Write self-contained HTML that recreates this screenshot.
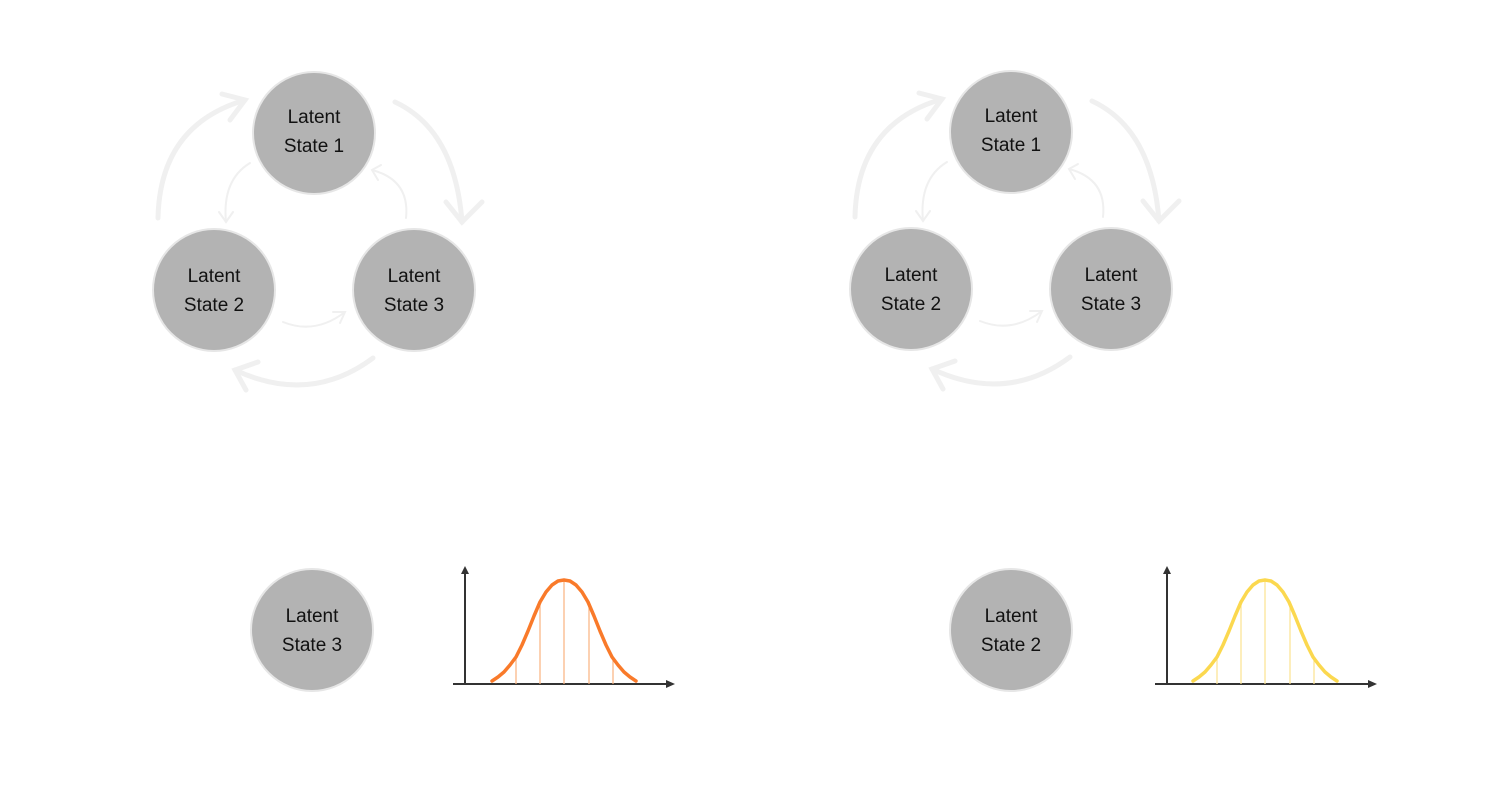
<!DOCTYPE html>
<html><head><meta charset="utf-8"><style>
html,body{margin:0;padding:0;background:#fff;width:1500px;height:800px;overflow:hidden}
text{font-family:"Liberation Sans",sans-serif;font-size:19px;fill:#111;text-anchor:middle}
</style></head><body>
<svg width="1500" height="800" viewBox="0 0 1500 800" xmlns="http://www.w3.org/2000/svg">
<defs>
<g id="cycle">
  <g fill="none" stroke="#f0f0f0" stroke-width="5" stroke-linecap="round">
    <path d="M158,218 Q160,125 245,100"/>
    <path d="M222,94 L245,100 L230,120"/>
    <path d="M395,102 Q455,130 462,222"/>
    <path d="M446,202 L462,222 L482,202"/>
    <path d="M373,358 Q310,405 235,370"/>
    <path d="M258,362 L235,370 L246,390"/>
  </g>
  <g fill="none" stroke="#f0f0f0" stroke-width="2" stroke-linecap="round">
    <path d="M250,163 Q222,180 226,222"/>
    <path d="M219,212 L226,222 L233,212"/>
    <path d="M406,218 Q410,180 372,170"/>
    <path d="M381,165 L372,170 L378,180"/>
    <path d="M283,322 Q315,335 345,312"/>
    <path d="M333,312 L345,312 L340,323"/>
  </g>
  <circle cx="314" cy="133" r="61" fill="#b3b3b3" stroke="#e6e6e6" stroke-width="2"/>
  <circle cx="214" cy="290" r="61" fill="#b3b3b3" stroke="#e6e6e6" stroke-width="2"/>
  <circle cx="414" cy="290" r="61" fill="#b3b3b3" stroke="#e6e6e6" stroke-width="2"/>
  <text x="314" y="123">Latent</text><text x="314" y="152">State 1</text>
  <text x="214" y="282">Latent</text><text x="214" y="311">State 2</text>
  <text x="414" y="282">Latent</text><text x="414" y="311">State 3</text>
</g>
<g id="chart">
  <path d="M465,684 L465,570" stroke="#333" stroke-width="2"/>
  <path d="M461,574 L465,566 L469,574 Z" fill="#333"/>
  <path d="M453,684 L670,684" stroke="#333" stroke-width="2"/>
  <path d="M666,680 L675,684 L666,688 Z" fill="#333"/>
</g>
<polyline id="curve" fill="none" stroke-width="3.5" stroke-linecap="round" stroke-linejoin="round" points="492,681 498,677 504,672 510,665 516,657 522,645 528,631 534,616 540,602 546,592 552,585 558,581 564,580 570,581 576,585 582,592 588,602 594,616 600,631 606,645 612,657 618,665 624,672 630,677 636,681"/>
</defs>
<use href="#cycle"/>
<use href="#cycle" transform="translate(697,-1)"/>

<circle cx="312" cy="630" r="61" fill="#b3b3b3" stroke="#e6e6e6" stroke-width="2"/>
<text x="312" y="622">Latent</text><text x="312" y="651">State 3</text>
<circle cx="1011" cy="630" r="61" fill="#b3b3b3" stroke="#e6e6e6" stroke-width="2"/>
<text x="1011" y="622">Latent</text><text x="1011" y="651">State 2</text>

<use href="#chart"/>
<g stroke="#f9b27f" stroke-width="1.2">
  <line x1="516" y1="684" x2="516" y2="657"/><line x1="540" y1="684" x2="540" y2="602"/>
  <line x1="564" y1="684" x2="564" y2="581"/><line x1="589" y1="684" x2="589" y2="603"/>
  <line x1="613" y1="684" x2="613" y2="658"/>
</g>
<use href="#curve" stroke="#f97a2a"/>

<use href="#chart" transform="translate(702,0)"/>
<g stroke="#fbe38f" stroke-width="1.2">
  <line x1="1217" y1="684" x2="1217" y2="657"/><line x1="1241" y1="684" x2="1241" y2="602"/>
  <line x1="1265" y1="684" x2="1265" y2="581"/><line x1="1290" y1="684" x2="1290" y2="603"/>
  <line x1="1314" y1="684" x2="1314" y2="658"/>
</g>
<use href="#curve" stroke="#fbd84f" transform="translate(701,0)"/>
</svg>
</body></html>
